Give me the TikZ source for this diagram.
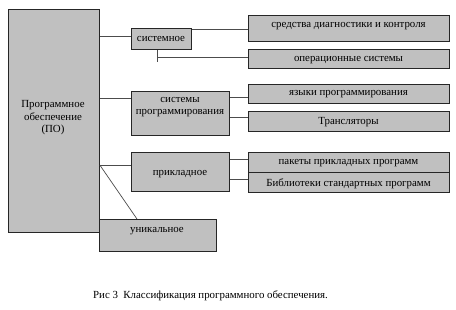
\documentclass[tikz,border=0pt]{standalone}
\usepackage{fontspec}
\setmainfont{Liberation Serif}
\begin{document}
\begin{tikzpicture}[x=1bp,y=-1bp,
  box/.style={draw=black!85,line width=0.8bp,fill=boxgray,inner sep=0pt},
  lbl/.style={font=\fontsize{10.9}{12.3}\selectfont,align=center,inner sep=0pt},
  blbl/.style={lbl,yshift=-1.8bp},
  link/.style={draw=black!70,line width=0.7bp}]
\definecolor{boxgray}{HTML}{C0C0C0}
\path[use as bounding box,fill=white] (0,0) rectangle (456,309);
% boxes
\node[box,minimum width=91bp,minimum height=223bp,anchor=north west] (po) at (8,9) {};
\node[blbl] at (53,116) {Программное\\обеспечение\\(ПО)};
\node[box,minimum width=60bp,minimum height=21bp,anchor=north west] (sys) at (131,28) {};
\node[blbl] at (161,37.5) {системное};
\node[box,minimum width=98bp,minimum height=44bp,anchor=north west] (sp) at (131,91) {};
\node[blbl] at (180,105) {системы\\программирования};
\node[box,minimum width=98bp,minimum height=39bp,anchor=north west] (pr) at (131,152) {};
\node[blbl] at (180,172) {прикладное};
\node[box,minimum width=117bp,minimum height=32bp,anchor=north west] (un) at (99,219) {};
\node[blbl] at (157,229) {уникальное};
\node[box,minimum width=201bp,minimum height=26bp,anchor=north west] (diag) at (248,15) {};
\node[blbl] at (348.5,24) {средства диагностики и контроля};
\node[box,minimum width=201bp,minimum height=19bp,anchor=north west] (os) at (248,49) {};
\node[blbl] at (348.5,58) {операционные системы};
\node[box,minimum width=201bp,minimum height=19bp,anchor=north west] (yaz) at (248,84) {};
\node[blbl] at (348.5,92.5) {языки программирования};
\node[box,minimum width=201bp,minimum height=20bp,anchor=north west] (tr) at (248,111) {};
\node[blbl] at (348.5,120.5) {Трансляторы};
\node[box,minimum width=201bp,minimum height=20bp,anchor=north west] (pak) at (248,152) {};
\node[blbl] at (348.5,161) {пакеты прикладных программ};
\node[box,minimum width=201bp,minimum height=20bp,anchor=north west] (bib) at (248,172) {};
\node[blbl] at (348.5,181.5) {Библиотеки стандартных программ};
% caption
\node[lbl,anchor=west] (cap) at (93,296) {Рис 3\ \ Классификация программного обеспечения.};
% connectors
\coordinate (stub) at (157,62);
\draw[link] (po.east |- 0,36) -- (sys.west |- 0,36);
\draw[link] (po.east |- 0,98) -- (sp.west |- 0,98);
\draw[link] (po.east |- 0,165) -- (pr.west |- 0,165);
\draw[link] (po.east |- 0,165) -- (un.north -| 137,0);
\draw[link] (sys.east |- 0,29) -- (diag.west |- 0,29);
\draw[link] (stub |- sys.south) -- (stub);
\draw[link] (stub |- 0,57) -- (os.west |- 0,57);
\draw[link] (sp.east |- 0,97) -- (yaz.west |- 0,97);
\draw[link] (sp.east |- 0,117) -- (tr.west |- 0,117);
\draw[link] (pr.east |- 0,159) -- (pak.west |- 0,159);
\draw[link] (pr.east |- 0,179) -- (bib.west |- 0,179);
\end{tikzpicture}
\end{document}
